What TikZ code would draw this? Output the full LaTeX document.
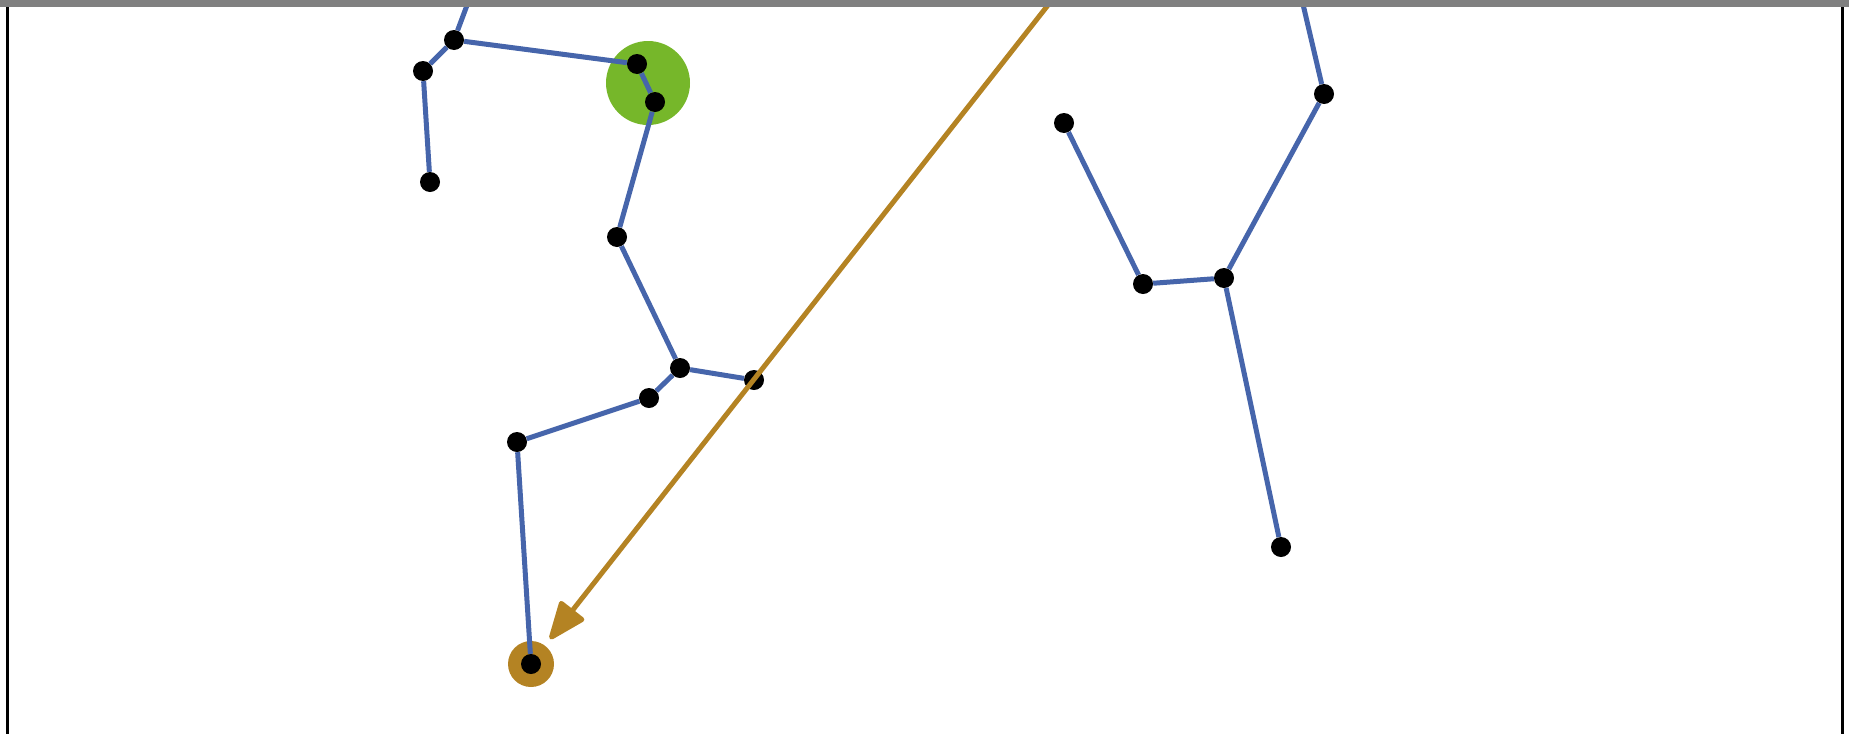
\documentclass[tikz,border=0pt]{standalone}
\usetikzlibrary{arrows.meta}
\definecolor{bleu}{RGB}{70,101,171}
\definecolor{vert}{RGB}{118,183,42}
\definecolor{ocre}{RGB}{180,131,35}
\tikzset{
	pt/.style={circle,fill=black,inner sep=0pt,minimum size=20pt},
	seg/.style={color=bleu,line width=5pt},
}
\begin{document}
\begin{tikzpicture}[x=1pt,y=-1pt]
	% Cadre de l'image
	\def\lrg{1849} \def\htr{734}
	\useasboundingbox (0,0) rectangle (\lrg,\htr);
%
% Disques de couleur
	\fill[vert] (648,83) circle (42pt);
	\fill[ocre] (531,664) circle (23pt);
% Points du squelette
	\foreach \nom/\x/\y in {a1/454/40, a2/423/71, a3/430/182, b1/637/64, b2/655/102,
		c1/617/237, d1/680/368, d2/649/398, d3/754/380, e1/517/442, f1/531/664,
		g1/1064/123, g2/1143/284, g3/1224/278, g4/1324/94, g5/1281/547}{
		\node[pt] (\nom) at (\x,\y) {};
	};
	\coordinate (hautA) at (469,0);
	\coordinate (hautG) at (1302,0);
	\coordinate (hautB) at (1052,0);
	\coordinate (pointe) at (550,639);
% Segments
	\foreach \a/\b in {a1/hautA, a1/a2, a2/a3, a1/b1, b1/b2, b2/c1, c1/d1, d1/d2,
		d1/d3, d2/e1, e1/f1, g1/g2, g2/g3, g3/g4, g4/hautG, g3/g5}{
		\draw[seg] (\a) -- (\b);
	};
% Fleche
	\draw[ocre,line width=5pt,-{Triangle[length=42pt,width=32pt,round]}] (hautB) -- (pointe);
% Bords
	\fill[gray] (0,0) rectangle (\lrg,7);
	\draw[line width=3pt] (7,7) -- (7,\htr);
	\draw[line width=3pt] (1842,7) -- (1842,\htr);
\end{tikzpicture}
\end{document}
